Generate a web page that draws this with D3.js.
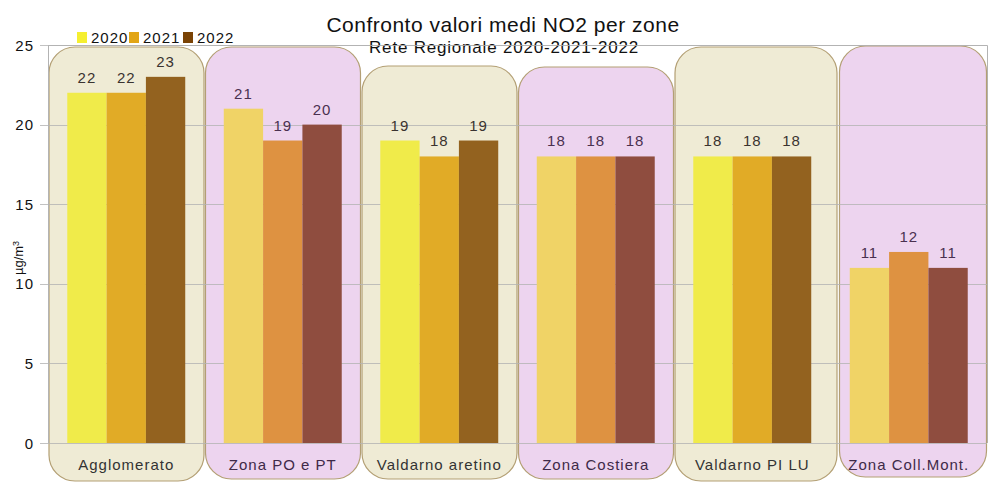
<!DOCTYPE html>
<html>
<head>
<meta charset="utf-8">
<script src="https://cdn.jsdelivr.net/npm/d3@7"></script>
<style>
  body { margin: 0; background: #fff; }
  text { font-family: "Liberation Sans", Arial, sans-serif; }
</style>
</head>
<body>
<div id="chart"></div>
<script>
var zones = ["Agglomerato", "Zona PO e PT", "Valdarno aretino", "Zona Costiera", "Valdarno PI LU", "Zona Coll.Mont."];
var years = ["2020", "2021", "2022"];
var v2020 = [22, 21, 19, 18, 18, 11];
var v2021 = [22, 19, 18, 18, 18, 12];
var v2022 = [23, 20, 19, 18, 18, 11];
var yTicks = [0, 5, 10, 15, 20, 25];

var series = [v2020, v2021, v2022];

// colours: beige boxes and lilac boxes alternate
var boxFill = ["#efebd5", "#edd4ef"];
var barColors = [
    ["#f0eb4a", "#e1ab26", "#93621f"],
    ["#f0d366", "#de9241", "#8f4d3f"]
];
var legendColors = ["#f5ef30", "#e2a516", "#7a4305"];
// the rounded boxes were hand drawn: tops/bottoms and edges are a bit uneven
var boxTop = [47, 47, 66, 67, 47, 46];
var boxBottom = [481, 479, 479, 479, 481, 477];
var boxShiftL = [0, 0, 0, 0, 0, 8];
var boxShiftR = [0, 0, 0, 0, 7, 0];

var width = 1006, height = 488;
var margin = {top: 45, right: 19, bottom: 45, left: 48};

var svg = d3.select("#chart").append("svg")
    .attr("width", width)
    .attr("height", height);

var xScale = d3.scaleBand()
    .domain(zones)
    .range([margin.left, width - margin.right]);

var xInner = d3.scaleBand()
    .domain(years)
    .range([0, xScale.bandwidth()])
    .paddingOuter(0.49);

var yScale = d3.scaleLinear()
    .domain([0, 25])
    .range([height - margin.bottom, margin.top]);

// plot frame (top and right)
svg.append("path")
    .attr("d", "M" + margin.left + "," + (yScale(25) + 0.5) + "H" + (width - margin.right + 0.5) + "V" + yScale(0))
    .attr("fill", "none")
    .attr("stroke", "#b3b3b3")
    .attr("stroke-width", 1);

// title
svg.append("text")
    .attr("x", 503).attr("y", 32)
    .attr("text-anchor", "middle")
    .style("font-size", "21px")
    .style("letter-spacing", "0.5px")
    .attr("fill", "#111")
    .text("Confronto valori medi NO2 per zone");

svg.append("text")
    .attr("x", 504).attr("y", 53)
    .attr("text-anchor", "middle")
    .style("font-size", "17px")
    .style("letter-spacing", "0.8px")
    .attr("fill", "#111")
    .text("Rete Regionale 2020-2021-2022");

// rounded zone boxes
svg.append("g").selectAll("rect")
    .data(zones)
    .enter().append("rect")
    .attr("x", function(d, i) { return xScale(d) + 1 + boxShiftL[i]; })
    .attr("y", function(d, i) { return boxTop[i]; })
    .attr("width", function(d, i) { return xScale.bandwidth() - 1.5 - boxShiftL[i] + boxShiftR[i]; })
    .attr("height", function(d, i) { return boxBottom[i] - boxTop[i]; })
    .attr("rx", 26).attr("ry", 26)
    .attr("fill", function(d, i) { return boxFill[i % 2]; })
    .attr("stroke", "#b39f74")
    .attr("stroke-width", 1.2);

// gridlines
svg.append("g").selectAll("line")
    .data(yTicks)
    .enter().append("line")
    .attr("x1", margin.left - 8)
    .attr("x2", width - margin.right)
    .attr("y1", function(d) { return Math.round(yScale(d)) + 0.5; })
    .attr("y2", function(d) { return Math.round(yScale(d)) + 0.5; })
    .attr("stroke", "#b3b3b3")
    .attr("stroke-opacity", 0.8);

// y axis line
svg.append("line")
    .attr("x1", margin.left + 0.5).attr("x2", margin.left + 0.5)
    .attr("y1", yScale(25)).attr("y2", yScale(0))
    .attr("stroke", "#b3b3b3");

// y tick labels
svg.append("g").selectAll("text")
    .data(yTicks)
    .enter().append("text")
    .attr("x", 34)
    .attr("y", function(d) { return yScale(d) + 5.5; })
    .attr("text-anchor", "end")
    .style("font-size", "15px")
    .style("letter-spacing", "1px")
    .attr("fill", "#111")
    .text(function(d) { return d; });

// y axis title
svg.append("text")
    .attr("transform", "translate(23," + 258 + ") rotate(-90)")
    .attr("text-anchor", "middle")
    .style("font-size", "13px")
    .attr("fill", "#111")
    .html("µg/m<tspan dy='-4' style='font-size:9px'>3</tspan>");

// bars
var groups = svg.append("g").selectAll("g")
    .data(zones)
    .enter().append("g")
    .attr("transform", function(d) { return "translate(" + xScale(d) + ",0)"; });

groups.each(function(zone, zi) {
    var g = d3.select(this);
    years.forEach(function(yr, yi) {
        var val = series[yi][zi];
        g.append("rect")
            .attr("x", xInner(yr))
            .attr("y", yScale(val))
            .attr("width", xInner.bandwidth())
            .attr("height", yScale(0) - yScale(val))
            .attr("fill", barColors[zi % 2][yi]);
        g.append("text")
            .attr("x", xInner(yr) + xInner.bandwidth() / 2)
            .attr("y", yScale(val) - 10)
            .attr("text-anchor", "middle")
            .style("font-size", "15px")
            .style("letter-spacing", "1px")
            .attr("fill", zi % 2 ? "#4a3050" : "#3a3330")
            .text(val);
    });
});

// category labels
svg.append("g").selectAll("text")
    .data(zones)
    .enter().append("text")
    .attr("x", function(d) { return xScale(d) + xScale.bandwidth() / 2; })
    .attr("y", 470)
    .attr("text-anchor", "middle")
    .style("font-size", "15px")
    .style("letter-spacing", "1px")
    .attr("fill", function(d, i) { return i % 2 ? "#3f2a48" : "#333"; })
    .text(function(d) { return d; });

// legend
var legendX = [77, 129, 183];
var legend = svg.append("g").selectAll("g")
    .data(years)
    .enter().append("g")
    .attr("transform", function(d, i) { return "translate(" + legendX[i] + ",32)"; });

legend.append("rect")
    .attr("width", 10).attr("height", 11)
    .attr("fill", function(d, i) { return legendColors[i]; });

legend.append("text")
    .attr("x", 14).attr("y", 11)
    .style("font-size", "15px")
    .style("letter-spacing", "1px")
    .attr("fill", "#111")
    .text(function(d) { return d; });
</script>
</body>
</html>
